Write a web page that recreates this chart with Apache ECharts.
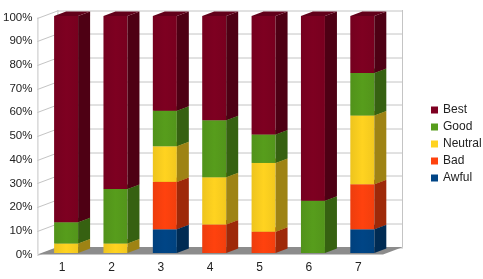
<!DOCTYPE html>
<html><head><meta charset="utf-8">
<script src="https://cdn.jsdelivr.net/npm/echarts@6/dist/echarts.min.js"></script>
<style>html,body{margin:0;padding:0;background:#fff}#c{width:483px;height:279px}</style>
</head><body><div id="c"></div>
<script>
var categories = ['1','2','3','4','5','6','7'];
var awful   = [0, 0, 10, 0, 0, 0, 10];
var bad     = [0, 0, 20, 12, 9, 0, 19];
var neutral = [4, 4, 15, 20, 29, 0, 29];
var good    = [9, 23, 15, 24, 12, 22, 18];
var best    = [87, 73, 40, 44, 50, 78, 24];
var seriesNames = ['Awful','Bad','Neutral','Good','Best'];
var seriesColors = ['#004586','#ff420e','#ffd320','#579d1c','#7e0021'];
var yTicks = [0,10,20,30,40,50,60,70,80,90,100];

var DX = 20, DY = -7.5;       // depth vector of the floor/walls
var BF = 0.2, BB = 0.8;        // bar occupies this depth range
var BW = 24;                   // bar front width

function shade(hex, f){
  var n = parseInt(hex.slice(1),16);
  var r=(n>>16)&255,g=(n>>8)&255,b=n&255;
  r=Math.round(r*f);g=Math.round(g*f);b=Math.round(b*f);
  return 'rgb('+r+','+g+','+b+')';
}

var allVals = [awful,bad,neutral,good,best];
var cum = categories.map(function(){return 0;});
var series = [];

// walls, gridlines, floor
series.push({
  type:'custom', silent:true, z:1,
  data:[[0,0]],
  renderItem:function(params, api){
    var cs = params.coordSys;
    var x0 = cs.x, x1 = cs.x + cs.width;
    var yb = api.coord([0,0])[1], yt = api.coord([0,100])[1];
    var ch = [];
    var ls = {stroke:'#c4c4c4', lineWidth:1};
    // back-left and back-right verticals, left-front vertical
    ch.push({type:'line', shape:{x1:x0+DX+0.5,y1:yt+DY,x2:x0+DX+0.5,y2:yb+DY}, style:ls});
    ch.push({type:'line', shape:{x1:x1+DX-0.5,y1:yt+DY,x2:x1+DX-0.5,y2:yb+DY}, style:ls});
    ch.push({type:'line', shape:{x1:x0+0.5,y1:yt,x2:x0+0.5,y2:yb}, style:ls});
    yTicks.forEach(function(v){
      var y = Math.round(api.coord([0,v])[1]) + 0.5;
      ch.push({type:'polyline', shape:{points:[[x0,y],[x0+DX,y+DY],[x1+DX,y+DY]]}, style:{stroke:'#c4c4c4', lineWidth:1, fill:null}});
    });
    ch.push({type:'polygon', shape:{points:[[x0,yb],[x0+DX,yb+DY],[x1+DX,yb+DY],[x1,yb]]}, style:{fill:'#8c8c8c'}});
    return {type:'group', children:ch};
  }
});

allVals.forEach(function(vals, si){
  var col = seriesColors[si];
  var data = vals.map(function(v, i){
    var s = cum[i]; cum[i] += v;
    return [i, s, s + v];
  });
  series.push({
    name: seriesNames[si],
    type:'custom',
    z: 2 + si,
    itemStyle:{color: col},
    encode:{x:0, y:[1,2]},
    data: data,
    renderItem:function(params, api){
      var c = api.value(0), s = api.value(1), e = api.value(2);
      if (e - s <= 0) return null;
      var pb = api.coord([c, s]), pt = api.coord([c, e]);
      var fx = pb[0] - BW/2 + DX*BF, fy = DY*BF;
      var dx = DX*(BB-BF), dy = DY*(BB-BF);
      var xl = fx, xr = fx + BW;
      var yB = pb[1] + fy, yT = pt[1] + fy;
      var front = {type:'polygon', shape:{points:[[xl,yB],[xr,yB],[xr,yT],[xl,yT]]},
        style:{fill:{type:'linear',x:0,y:0,x2:1,y2:0,colorStops:[{offset:0,color:shade(col,0.93)},{offset:0.5,color:col},{offset:1,color:shade(col,0.95)}]}}};
      var side = {type:'polygon', shape:{points:[[xr,yB],[xr+dx,yB+dy],[xr+dx,yT+dy],[xr,yT]]},
        style:{fill:shade(col,0.62)}};
      var top = {type:'polygon', shape:{points:[[xl,yT],[xr,yT],[xr+dx,yT+dy],[xl+dx,yT+dy]]},
        style:{fill:shade(col,0.78)}};
      return {type:'group', children:[front, side, top]};
    }
  });
});

var chart = echarts.init(document.getElementById('c'), null, {renderer:'canvas'});
chart.setOption({
  animation:false,
  backgroundColor:'#fff',
  textStyle:{fontFamily:'Liberation Sans'},
  grid:{left:33, right:100, top:17.5, bottom:24.5, containLabel:false},
  xAxis:{type:'category', data:categories,
    axisLine:{show:false}, axisTick:{show:false}, splitLine:{show:false},
    axisLabel:{color:'#222', fontSize:12, margin:7, fontFamily:'Liberation Sans'}},
  yAxis:{type:'value', min:0, max:100, interval:10,
    axisLine:{show:false}, axisTick:{show:false}, splitLine:{show:false},
    axisLabel:{color:'#222', fontSize:11.5, margin:5, formatter:'{value}%', fontFamily:'Liberation Sans'}},
  legend:{orient:'vertical', left:426, top:99, icon:'rect', itemWidth:7, itemHeight:7, itemGap:5,
    data:['Best','Good','Neutral','Bad','Awful'],
    textStyle:{color:'#222', fontSize:12, fontFamily:'Liberation Sans'}},
  series: series
});
</script></body></html>
